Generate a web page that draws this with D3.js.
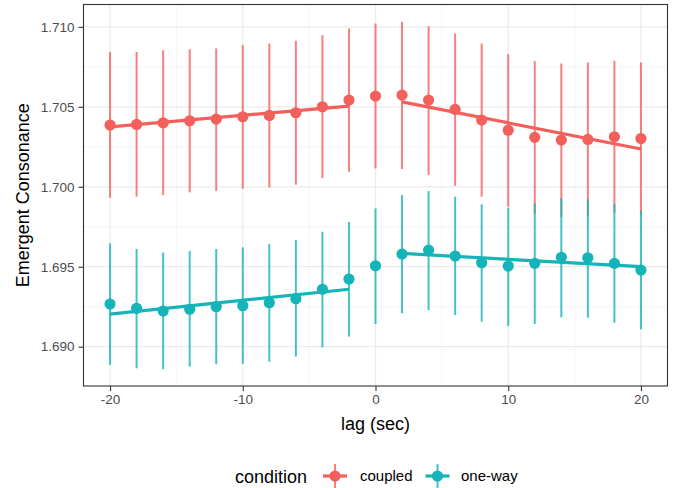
<!DOCTYPE html>
<html>
<head>
<meta charset="utf-8">
<script src="https://cdn.jsdelivr.net/npm/d3@7"></script>
<style>
  html, body { margin: 0; padding: 0; background: #fff; }
  svg { display: block; font-family: "Liberation Sans", Arial, Helvetica, sans-serif; }
</style>
</head>
<body>
<svg id="chart" width="673" height="488"></svg>
<script>
// ---- data ----
const lags = [-20,-18,-16,-14,-12,-10,-8,-6,-4,-2,0,2,4,6,8,10,12,14,16,18,20];

const coupledMean  = [1.70386,1.70390,1.70400,1.70413,1.70423,1.70438,1.70446,1.70463,1.70500,1.70542,1.70567,1.70573,1.70542,1.70484,1.70417,1.70354,1.70309,1.70292,1.70296,1.70313,1.70302];
const coupledLower = [1.69931,1.69938,1.69948,1.69965,1.69973,1.69988,1.69996,1.70013,1.70054,1.70094,1.70115,1.70111,1.70073,1.70006,1.69938,1.69875,1.69832,1.69813,1.69815,1.69838,1.69827];
const coupledUpper = [1.70844,1.70844,1.70854,1.70861,1.70865,1.70886,1.70896,1.70913,1.70948,1.70990,1.71021,1.71031,1.71004,1.70959,1.70896,1.70829,1.70786,1.70771,1.70777,1.70788,1.70777];

const onewayMean  = [1.69267,1.69240,1.69223,1.69234,1.69250,1.69256,1.69275,1.69300,1.69359,1.69423,1.69506,1.69579,1.69604,1.69567,1.69525,1.69504,1.69521,1.69559,1.69556,1.69521,1.69479];
const onewayLower = [1.68886,1.68865,1.68859,1.68875,1.68890,1.68892,1.68906,1.68938,1.68996,1.69063,1.69142,1.69209,1.69229,1.69198,1.69156,1.69129,1.69142,1.69184,1.69181,1.69150,1.69109];
const onewayUpper = [1.69646,1.69611,1.69588,1.69598,1.69611,1.69621,1.69642,1.69667,1.69719,1.69781,1.69865,1.69948,1.69973,1.69938,1.69890,1.69869,1.69896,1.69927,1.69921,1.69890,1.69850];

// fitted segments: [lag, value] endpoints
const coupledFitPre  = [[-20,1.70375],[-2,1.70504]];
const coupledFitPost = [[2,1.70531],[20,1.70236]];
const onewayFitPre   = [[-20,1.69204],[-2,1.69359]];
const onewayFitPost  = [[2,1.69583],[20,1.69500]];

const conditions = ["coupled","one-way"];
const xTicks = [-20,-10,0,10,20];
const xTickLabels = ["-20","-10","0","10","20"];
const xMinor = [-15,-5,5,15];
const yTicks = [1.690,1.695,1.700,1.705,1.710];
const yTickLabels = ["1.690","1.695","1.700","1.705","1.710"];
const yMinor = [1.6925,1.6975,1.7025,1.7075];
const xTitle = "lag (sec)";
const yTitle = "Emergent Consonance";
const legendTitle = "condition";

// ---- layout ----
const colors = {"coupled":"#F3605B","one-way":"#14B4B8"};
const panel = {left:83.5, right:667.5, top:4.5, bottom:386};

const svg = d3.select("#chart");
const x = d3.scaleLinear().domain([-22,22]).range([panel.left, panel.right]);
const y = d3.scaleLinear().domain([1.68754,1.71140]).range([panel.bottom, panel.top]);

// panel bg
svg.append("rect").attr("x",panel.left).attr("y",panel.top)
  .attr("width",panel.right-panel.left).attr("height",panel.bottom-panel.top)
  .attr("fill","#fff");

const grid = svg.append("g");
grid.selectAll(".xm").data(xMinor).join("line")
  .attr("x1",d=>x(d)).attr("x2",d=>x(d)).attr("y1",panel.top).attr("y2",panel.bottom)
  .attr("stroke","#F2F2F2").attr("stroke-width",0.8);
grid.selectAll(".ym").data(yMinor).join("line")
  .attr("y1",d=>y(d)).attr("y2",d=>y(d)).attr("x1",panel.left).attr("x2",panel.right)
  .attr("stroke","#F2F2F2").attr("stroke-width",0.8);
grid.selectAll(".xM").data(xTicks).join("line")
  .attr("x1",d=>x(d)).attr("x2",d=>x(d)).attr("y1",panel.top).attr("y2",panel.bottom)
  .attr("stroke","#EBEBEB").attr("stroke-width",1.3);
grid.selectAll(".yM").data(yTicks).join("line")
  .attr("y1",d=>y(d)).attr("y2",d=>y(d)).attr("x1",panel.left).attr("x2",panel.right)
  .attr("stroke","#EBEBEB").attr("stroke-width",1.3);

// series
const series = [
  {name:"coupled", mean:coupledMean, lo:coupledLower, hi:coupledUpper, fits:[coupledFitPre,coupledFitPost]},
  {name:"one-way", mean:onewayMean, lo:onewayLower, hi:onewayUpper, fits:[onewayFitPre,onewayFitPost]}
];

series.forEach(s => {
  const g = svg.append("g");
  const rows = lags.map((l,i)=>({lag:l, m:s.mean[i], lo:s.lo[i], hi:s.hi[i]}));
  g.selectAll("line.err").data(rows).join("line")
    .attr("x1",d=>x(d.lag)).attr("x2",d=>x(d.lag))
    .attr("y1",d=>y(d.lo)).attr("y2",d=>y(d.hi))
    .attr("stroke",colors[s.name]).attr("stroke-width",2).attr("stroke-opacity",0.8);
  g.selectAll("circle").data(rows).join("circle")
    .attr("cx",d=>x(d.lag)).attr("cy",d=>y(d.m)).attr("r",5.6)
    .attr("fill",colors[s.name]);
  const line = d3.line().x(d=>x(d[0])).y(d=>y(d[1]));
  s.fits.forEach(f => {
    g.append("path").attr("d",line(f)).attr("fill","none")
      .attr("stroke",colors[s.name]).attr("stroke-width",3.2);
  });
});

// panel border
svg.append("rect").attr("x",panel.left).attr("y",panel.top)
  .attr("width",panel.right-panel.left).attr("height",panel.bottom-panel.top)
  .attr("fill","none").attr("stroke","#333").attr("stroke-width",1.1);

// axes
const xAxis = svg.append("g").attr("transform",`translate(0,${panel.bottom})`)
  .call(d3.axisBottom(x).tickValues(xTicks).tickSize(5).tickPadding(3)
    .tickFormat((d,i)=>xTickLabels[i]));
const yAxis = svg.append("g").attr("transform",`translate(${panel.left},0)`)
  .call(d3.axisLeft(y).tickValues(yTicks).tickSize(5).tickPadding(4)
    .tickFormat((d,i)=>yTickLabels[i]));
[xAxis,yAxis].forEach(a=>{
  a.select(".domain").remove();
  a.selectAll(".tick line").attr("stroke","#333").attr("stroke-width",1.1);
  a.selectAll(".tick text").attr("fill","#4D4D4D").style("font-size","13.5px")
   .style("font-family","'Liberation Sans', Arial, sans-serif");
});

// titles
svg.append("text").attr("x",(panel.left+panel.right)/2).attr("y",430)
  .attr("text-anchor","middle").style("font-size","18px").attr("fill","#000").text(xTitle);
svg.append("text").attr("transform",`translate(29,${(panel.top+panel.bottom)/2}) rotate(-90)`)
  .attr("text-anchor","middle").style("font-size","18px").attr("fill","#000").text(yTitle);

// legend
const ly = 476;
svg.append("text").attr("x",235).attr("y",ly+6.5).style("font-size","18px").attr("fill","#000").text(legendTitle);
const keyX = [335,437.5];
const labX = [360,461];
conditions.forEach((c,i)=>{
  const k = svg.append("g").attr("transform",`translate(${keyX[i]},${ly})`);
  k.append("line").attr("x1",0).attr("x2",0).attr("y1",-12).attr("y2",12)
    .attr("stroke",colors[c]).attr("stroke-width",2).attr("stroke-opacity",0.8);
  k.append("line").attr("x1",-12).attr("x2",12).attr("y1",0).attr("y2",0)
    .attr("stroke",colors[c]).attr("stroke-width",3.2);
  k.append("circle").attr("r",5.6).attr("fill",colors[c]);
  svg.append("text").attr("x",labX[i]).attr("y",ly+5).style("font-size","15px").attr("fill","#000").text(c);
});
</script>
</body>
</html>
